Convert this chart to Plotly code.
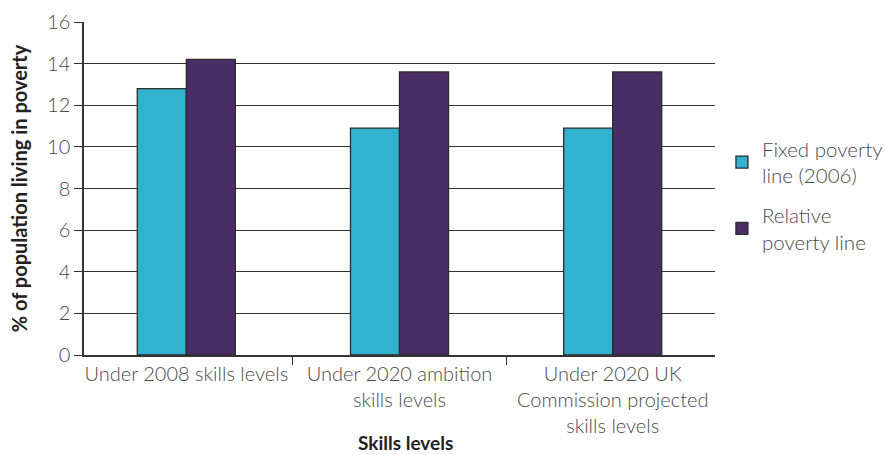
import plotly.graph_objects as go

categories = [
    "Under 2008 skills levels",
    "Under 2020 ambition<br>skills levels",
    "Under 2020 UK<br>Commission projected<br>skills levels",
]
fixed_line = [12.8, 10.9, 10.9]
relative_line = [14.2, 13.6, 13.6]
y_ticks = [0, 2, 4, 6, 8, 10, 12, 14, 16]

FONT = "Lato"
TEXT = "#4a4a4a"
EDGE = "#2b2b2b"

fig = go.Figure()
fig.add_trace(go.Bar(
    x=categories, y=fixed_line, name="Fixed poverty<br>line (2006)",
    legendgroup="fixed",
    marker=dict(color="#31b2ce", line=dict(color=EDGE, width=1.3)),
))
fig.add_trace(go.Bar(
    x=categories, y=relative_line, name="Relative<br>poverty line",
    legendgroup="relative",
    marker=dict(color="#4a2d66", line=dict(color=EDGE, width=1.3)),
))

fig.update_layout(
    width=886, height=455,
    margin=dict(l=84, r=171, t=22, b=100, autoexpand=False),
    paper_bgcolor="white", plot_bgcolor="white",
    barmode="group", bargap=0.54, bargroupgap=0,
    font=dict(family=FONT, color=TEXT, size=20, weight=300),
    legend=dict(
        x=1.011, y=0.679, xanchor="left", yanchor="top",
        font=dict(size=20.5, color=TEXT, weight=300),
        tracegroupgap=10,
    ),
)
fig.update_xaxes(
    range=[-0.48, 2.48],
    tickson="boundaries", ticks="outside", ticklen=8, tickcolor="#333",
    tickangle=0,
    tickfont=dict(size=20, color=TEXT, weight=300),
    showline=True, linecolor="#333", linewidth=1.5,
    showgrid=False,
)
fig.update_yaxes(
    range=[0, 16], tickvals=y_ticks,
    ticks="outside", ticklen=8, tickcolor="#333",
    tickfont=dict(size=20, color=TEXT, weight=300),
    showline=True, linecolor="#333", linewidth=1.5,
    showgrid=True, gridcolor="#333", gridwidth=1.2,
    zeroline=False,
    title=dict(text="<b>% of population living in poverty</b>",
               font=dict(size=20, color="#222"), standoff=14),
)
fig.add_annotation(
    text="<b>Skills levels</b>", xref="paper", yref="paper",
    x=0.5, y=0, xshift=6, yshift=-87, yanchor="middle", showarrow=False,
    font=dict(size=19, color="#222"),
)

fig.write_html("out.html")
